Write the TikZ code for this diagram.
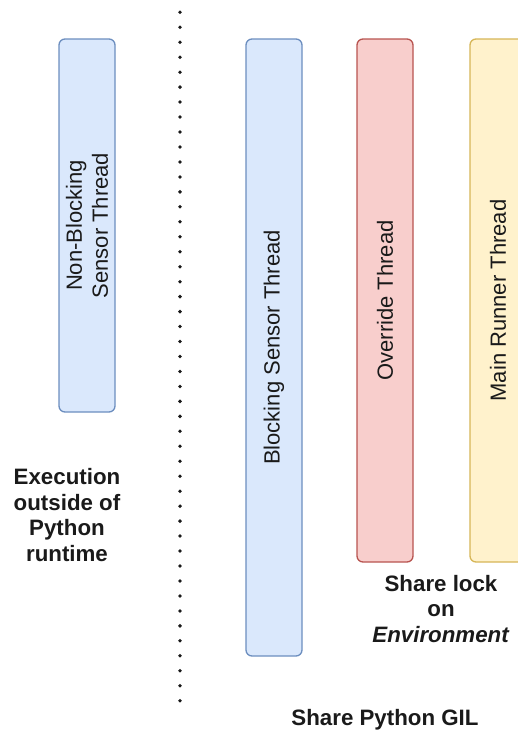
\documentclass[tikz,border=0pt]{standalone}
\usepackage{fontspec}
\setmainfont{Liberation Sans}
\definecolor{bluefill}{HTML}{DAE8FC}
\definecolor{bluedraw}{HTML}{6C8EBF}
\definecolor{redfill}{HTML}{F8CECC}
\definecolor{reddraw}{HTML}{B85450}
\definecolor{yelfill}{HTML}{FFF2CC}
\definecolor{yeldraw}{HTML}{D6B656}
\definecolor{txt}{HTML}{1A1A1A}
\begin{document}
\begin{tikzpicture}[x=1pt,y=-1pt,
  thread/.style={draw, rounded corners=6pt, line width=1.3pt, minimum width=56pt, inner sep=0pt},
  vlabel/.style={rotate=90, align=center, text=txt, font=\fontsize{22}{26}\selectfont, inner sep=0pt},
  note/.style={align=center, text=txt, font=\fontsize{22.3}{25.5}\selectfont\bfseries, inner sep=0pt},
  sep/.style={line width=3.8pt, line cap=round, dash pattern=on 0pt off 14.965pt, draw=black!90}
]
\useasboundingbox (0,0) rectangle (518,736);
\clip (0,0) rectangle (518,736);
\coordinate (septop) at (180,12.3);
\coordinate (sepbot) at (180,700.8);
\draw[sep] (septop) -- (sepbot);

\node[thread, fill=bluefill, draw=bluedraw, minimum height=373pt] (nb) at (87,225.5) {};
\node[vlabel] (nbt) at (nb.center) {Non-Blocking\\Sensor Thread};

\node[thread, fill=bluefill, draw=bluedraw, minimum height=617pt] (bs) at (274,347.5) {};
\node[vlabel] (bst) at (bs.center) {Blocking Sensor Thread};

\node[thread, fill=redfill, draw=reddraw, minimum height=523pt] (ov) at (385,300.5) {};
\node[vlabel] (ovt) at (ov.center) {Override Thread};

\node[thread, fill=yelfill, draw=yeldraw, minimum height=523pt] (mr) at (498,300.5) {};
\node[vlabel] (mrt) at (mr.center) {Main Runner Thread};

\node[note] (exec) at (67,515) {Execution\\outside of\\Python\\runtime};
\node[note] (lock) at (441,609) {Share lock\\on\\\textit{Environment}};
\node[note] (gil) at (385,720) {Share Python GIL};
\end{tikzpicture}
\end{document}
